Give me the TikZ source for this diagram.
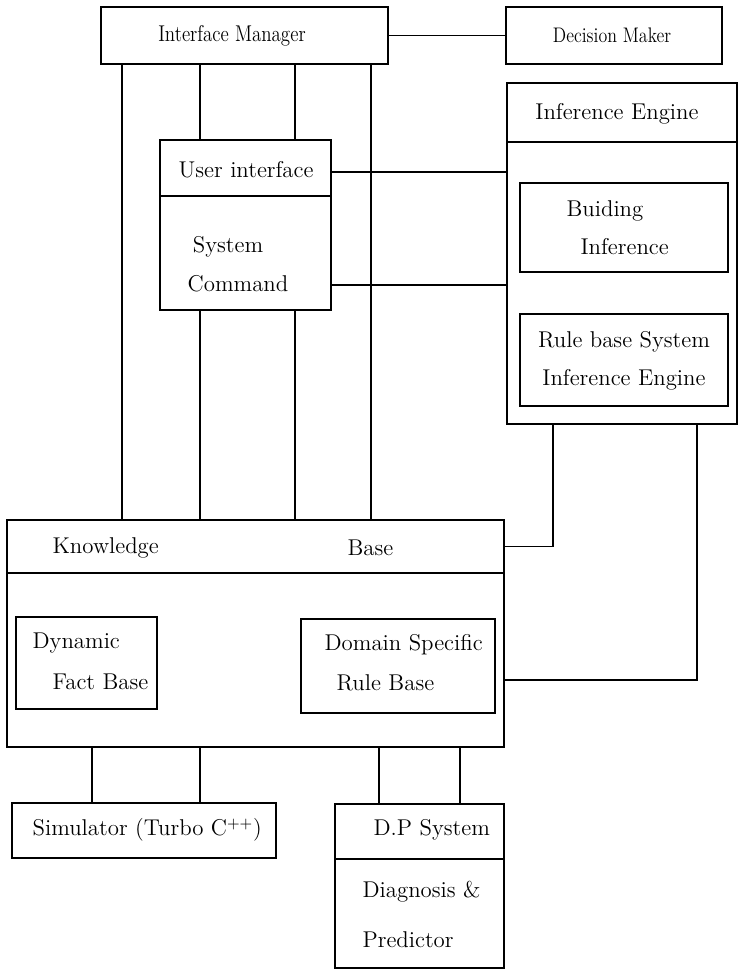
\documentclass[tikz,border=0pt]{standalone}
\usetikzlibrary{fit}

\begin{document}
\begin{tikzpicture}[x=0.02cm,y=-0.02cm,line width=0.7pt]
	\tikzstyle{box}=[draw,inner sep=0pt]
	\tikzstyle{lbl}=[inner sep=0pt,font=\fontsize{13}{15}\selectfont]
	\useasboundingbox (0,0) rectangle (739,973);
	% top row
	\node[box,fit={(101,7) (388,64)}] (im) {};
	\node[box,fit={(506,7) (722,64)}] (dm) {};
	\node[lbl] at (232,36) {\scalebox{0.83}[1]{Interface Manager}};
	\node[lbl,font=\fontsize{12}{14}\selectfont] at (612,35) {\scalebox{0.85}[1]{Decision Maker}};
	% user interface
	\node[box,fit={(160,140) (331,196)}] (ui) {};
	\node[box,fit={(160,196) (331,310)}] (sc) {};
	\node[lbl,anchor=west] at (178,170) {User interface};
	\node[lbl] at (228,247) {System};
	\node[lbl] at (238,284) {Command};
	% inference engine
	\node[box,fit={(507,83) (737,142)}] (ieh) {};
	\node[box,fit={(507,142) (737,424)}] (ieb) {};
	\node[box,fit={(520,183) (728,272)}] (bi) {};
	\node[box,fit={(520,314) (728,406)}] (rb) {};
	\node[lbl] at (617,114) {Inference Engine};
	\node[lbl,anchor=west] at (566,211) {Buiding};
	\node[lbl,anchor=west] at (580,247) {Inference};
	\node[lbl] at (624,342) {Rule base System};
	\node[lbl] at (624,380) {Inference Engine};
	% knowledge base
	\node[box,fit={(7,520) (504,573)}] (kbh) {};
	\node[box,fit={(7,573) (504,747)}] (kbb) {};
	\node[box,fit={(16,617) (157,709)}] (dfb) {};
	\node[box,fit={(301,619) (495,713)}] (dsrb) {};
	\node[lbl,anchor=west] at (52,548) {Knowledge};
	\node[lbl,anchor=west] at (347,548) {Base};
	\node[lbl,anchor=west] at (32,643) {Dynamic};
	\node[lbl,anchor=west] at (52,682) {Fact Base};
	\node[lbl,anchor=west] at (324,645) {Domain Specific};
	\node[lbl,anchor=west] at (336,683) {Rule Base};
	% bottom row
	\node[box,fit={(12,803) (276,858)}] (sim) {};
	\node[box,fit={(335,804) (504,859)}] (dph) {};
	\node[box,fit={(335,859) (504,968)}] (dpb) {};
	\node[lbl,anchor=west] at (32,830) {Simulator (Turbo C$^{++}$)};
	\node[lbl,anchor=west] at (373,830) {D.P System};
	\node[lbl,anchor=west] at (362,892) {Diagnosis \&};
	\node[lbl,anchor=west] at (362,940) {Predictor};
	% connectors
	\draw (im.east) -- (im.east -| dm.west);
	\draw (122,0 |- im.south) -- (122,0 |- kbh.north);
	\draw (371,0 |- im.south) -- (371,0 |- kbh.north);
	\draw (200,0 |- im.south) -- (200,0 |- ui.north);
	\draw (295,0 |- im.south) -- (295,0 |- ui.north);
	\draw (200,0 |- sc.south) -- (200,0 |- kbh.north);
	\draw (295,0 |- sc.south) -- (295,0 |- kbh.north);
	\draw (ui.east |- 0,172) -- (ieb.west |- 0,172);
	\draw (sc.east |- 0,285) -- (ieb.west |- 0,285);
	\draw (553,0 |- ieb.south) |- (kbh.east);
	\draw (697,0 |- ieb.south) |- (kbb.east |- 0,680);
	\draw (92,0 |- kbb.south) -- (92,0 |- sim.north);
	\draw (200,0 |- kbb.south) -- (200,0 |- sim.north);
	\draw (379,0 |- kbb.south) -- (379,0 |- dph.north);
	\draw (460,0 |- kbb.south) -- (460,0 |- dph.north);
\end{tikzpicture}
\end{document}
